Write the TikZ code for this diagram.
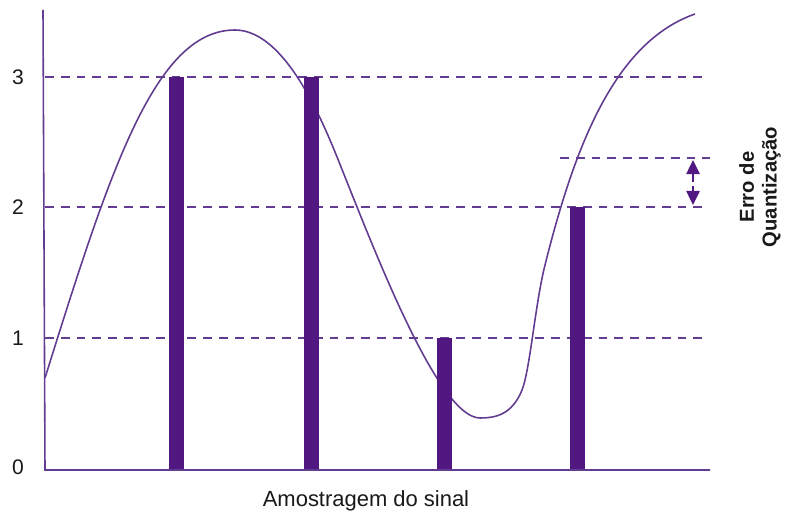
\documentclass[tikz,border=0pt]{standalone}
\usepackage{fontspec}
\setmainfont{Liberation Sans}
\usetikzlibrary{arrows.meta}
\definecolor{PB}{RGB}{80,24,128}
\definecolor{PL}{RGB}{98,60,145}
\definecolor{TX}{RGB}{25,25,25}

\begin{document}
\begin{tikzpicture}[x=0.2mm, y=-0.2mm,
  lvl/.style={draw=PL, dash pattern=on 5pt off 4pt, line width=0.8pt},
  sig/.style={draw=PL, line width=0.9pt},
  bar/.style={fill=PB},
  axis/.style={draw=PL, line width=0.9pt},
  tick/.style={font=\fontsize{12}{14}\selectfont, text=TX},
  arr/.style={-{Triangle[length=8pt, width=7.5pt]}, draw=PB, fill=PB, line width=1.2pt}
]
\useasboundingbox (0,0) rectangle (785,512);

% Quantization levels
\foreach \l/\y in {1/338, 2/207, 3/77}{
  \draw[lvl] (45,\y) -- (705,\y);
  \node[tick] (lvl\l) at (18,\y) {\l};
}
\node[tick] (lvl0) at (18,467) {0};
\draw[lvl] (560,158) -- (710,158);

% Signal
\draw[sig] (45,378) .. controls (110,170) and (155,30) .. (235,30)
  .. controls (290,30) and (330,139.5) .. (345,177)
  .. controls (380,264.5) and (440,418) .. (480,418)
  .. controls (495,418) and (512,415) .. (522,390)
  .. controls (530,370) and (535,305) .. (545,265)
  .. controls (575,145) and (615,42) .. (695,14);

% Samples
\foreach \x/\h in {176/77, 311/77, 444/338, 577/207}
  \fill[bar] (\x-7.5,\h) rectangle (\x+7.5,470);

% Axes
\draw[axis] (43,10) -- (45,470) -- (710,470);

% Error
\coordinate (errtop) at (693,160);
\coordinate (errup) at (693,182);
\coordinate (errdn) at (693,186);
\coordinate (errbot) at (693,205);
\draw[arr] (errup) -- (errtop);
\draw[arr] (errdn) -- (errbot);
\node[font=\bfseries\fontsize{11.5}{13}\selectfont, rotate=90, align=center, text=TX]
  (errlabel) at (760,187) {Erro de\\Quantização};

\node[font=\fontsize{12.5}{15}\selectfont, text=TX, anchor=base]
  (xlabel) at (366,506) {Amostragem do sinal};
\end{tikzpicture}
\end{document}
